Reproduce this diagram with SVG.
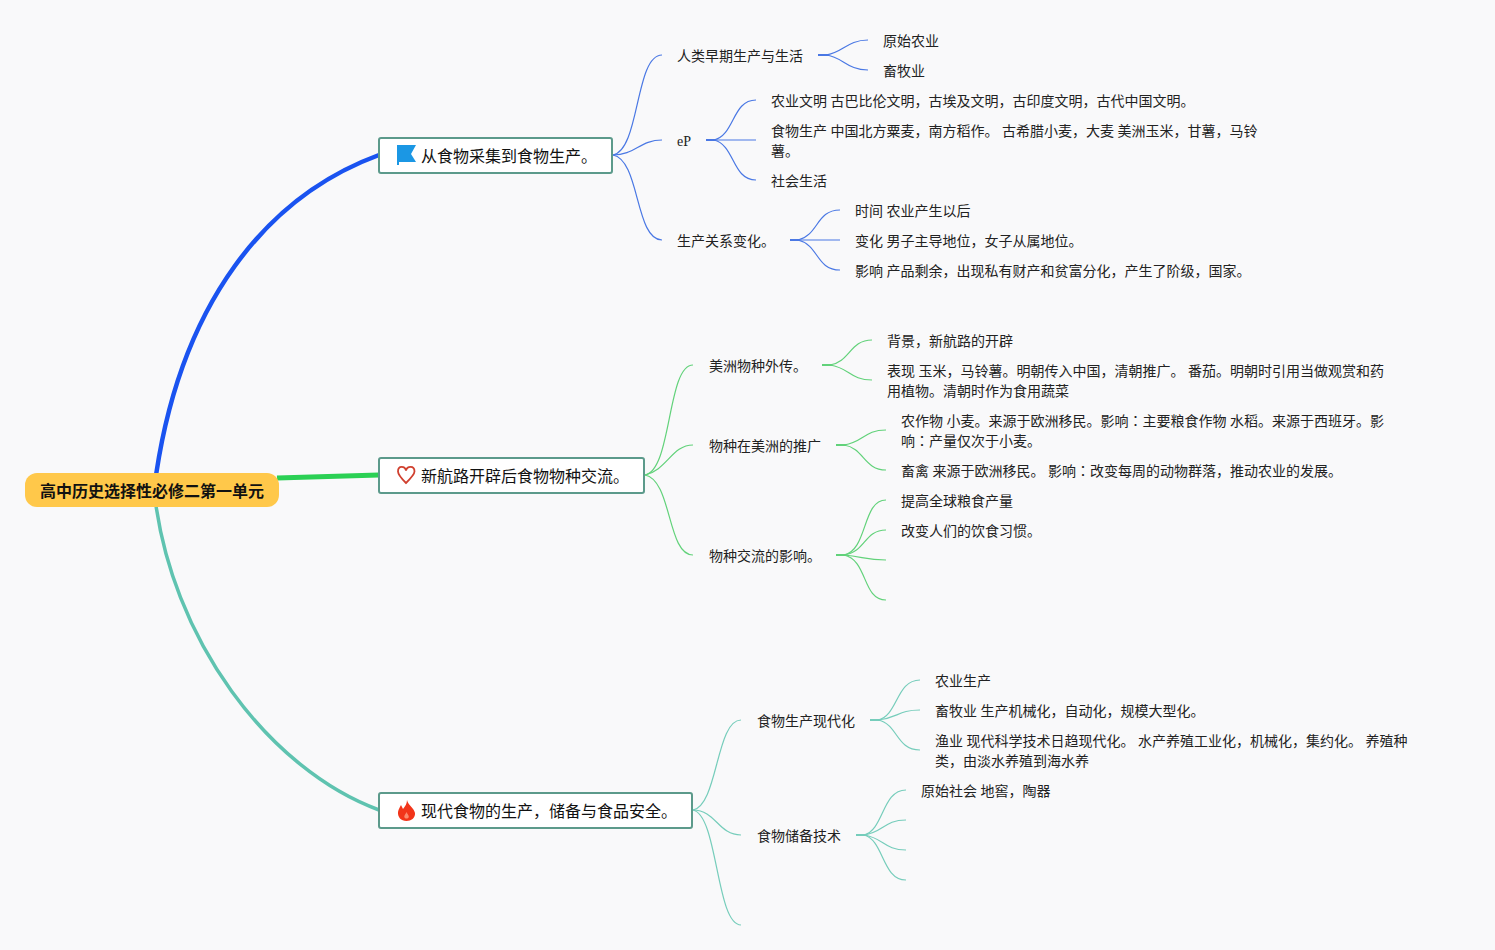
<svg xmlns="http://www.w3.org/2000/svg" width="1495" height="950" viewBox="0 0 1495 950">
<style>
text{font-family:"Noto Sans CJK SC","Liberation Sans",sans-serif;font-size:14px;fill:#222;word-spacing:.4px}
.t{font-size:16px;fill:#111}
.r{font-size:16px;font-weight:700;fill:#111}
.j{font-family:"Noto Sans CJK JP",sans-serif}
.box{fill:#fff;stroke:#5c9a8b;stroke-width:2}
.c{fill:none;stroke-width:1.2}
.b{stroke:#4a78e4}.g{stroke:#62d27a}.m{stroke:#76cdbb}
.s{fill:none;stroke-width:2}
</style>
<rect width="1495" height="950" fill="#f9f9fa"/>
<g id="connectors">
<path d="M154,490 C178,300 270,195 379,155" fill="none" stroke="#1a53f0" stroke-width="4.5"/>
<path d="M277,478 L379,475" fill="none" stroke="#2bd054" stroke-width="5"/>
<path d="M154,490 C170,640 270,770 379,810" fill="none" stroke="#5fc3b0" stroke-width="3.5"/>
<g class="b">
<path class="c" d="M613,155 C640,150 635,55 662,55"/>
<path class="c" d="M613,155 C635,155 640,140 662,140"/>
<path class="c" d="M613,155 C640,160 635,240 662,240"/>
<path class="s" d="M818,55 H828"/>
<path class="c" d="M826,55 C843,53 847,40 868,40"/>
<path class="c" d="M826,55 C843,57 847,70 868,70"/>
<path class="s" d="M706,140 H716"/>
<path class="c" d="M714,140 C735,135 732,100 756,100"/>
<path class="c" d="M714,140 H756" stroke-width="1.6"/>
<path class="c" d="M714,140 C735,145 732,180 756,180"/>
<path class="s" d="M790,240 H800"/>
<path class="c" d="M798,240 C819,235 816,210 840,210"/>
<path class="c" d="M798,240 H840" stroke-width="1.6"/>
<path class="c" d="M798,240 C819,245 816,270 840,270"/>
</g>
<g class="g">
<path class="c" d="M645,475 C672,470 667,365 693,365"/>
<path class="c" d="M645,475 C667,470 672,445 693,445"/>
<path class="c" d="M645,475 C672,480 667,555 693,555"/>
<path class="s" d="M822,365 H832"/>
<path class="c" d="M830,365 C850,362 850,340 872,340"/>
<path class="c" d="M830,365 C850,368 850,380 872,380"/>
<path class="s" d="M836,445 H846"/>
<path class="c" d="M844,445 C864,442 864,430 886,430"/>
<path class="c" d="M844,445 C864,448 864,470 886,470"/>
<path class="s" d="M836,555 H846"/>
<path class="c" d="M844,555 C868,550 862,500 886,500"/>
<path class="c" d="M844,555 C866,552 864,530 886,530"/>
<path class="c" d="M844,555 C864,557 866,560 886,560"/>
<path class="c" d="M844,555 C868,560 862,600 886,600"/>
</g>
<g class="m">
<path class="c" d="M693,810 C718,805 716,720 741,720"/>
<path class="c" d="M693,810 C716,810 718,835 741,835"/>
<path class="c" d="M693,810 C718,815 716,925 741,925"/>
<path class="s" d="M870,720 H880"/>
<path class="c" d="M878,720 C898,716 896,680 920,680"/>
<path class="c" d="M878,720 C898,718 898,710 920,710"/>
<path class="c" d="M878,720 C898,724 896,750 920,750"/>
<path class="s" d="M856,835 H866"/>
<path class="c" d="M864,835 C884,830 882,790 906,790"/>
<path class="c" d="M864,835 C884,832 884,820 906,820"/>
<path class="c" d="M864,835 C884,838 884,850 906,850"/>
<path class="c" d="M864,835 C884,840 882,880 906,880"/>
</g>
</g>
<g id="root"><rect x="25" y="473" width="254" height="34" rx="12" fill="#ffc84a"/><text class="r" x="40" y="497">高中历史选择性必修二第一单元</text></g>
<g id="topic1"><rect class="box" x="379" y="138" width="233" height="35" rx="2"/>
<path d="M398,145 H416 L411,154 L416,162 H399 V165 H397 V145Z" fill="#1b97e4"/>
<text class="t" x="421" y="162">从食物采集到食物生产。</text></g>
<g id="topic2"><rect class="box" x="379" y="458" width="265" height="35" rx="2"/>
<path d="M406,483 C400,477 398,474 398,471.500 C398,465 405,466 406,470.500 C407,466 414.500,465 414.500,471.500 C414.500,474 412,477 406,483Z" fill="#fff" stroke="#d0402f" stroke-width="1.800"/>
<text class="t" x="421" y="482">新航路开辟后食物物种交流。</text></g>
<g id="topic3"><rect class="box" x="379" y="793" width="313" height="35" rx="2"/>
<path d="M407,800 C408,805 414,808 415,813 C415.500,818 411,821 406.500,821 C401,821 397.500,817 398,812 C398.500,809 400,807 401,805 L403,809 C405,806 407,804 407,800Z" fill="#f2351a"/>
<path d="M406.500,812 C407,814 409,815 408.800,817 C408,819 405,819 404.300,817 C404,815 406,814 406.500,812Z" fill="#fb8a6e"/>
<text class="t" x="421" y="817">现代食物的生产，储备与食品安全。</text></g>
<g id="n11"><text x="677" y="61">人类早期生产与生活</text></g>
<g id="n111"><text x="883" y="46">原始农业</text></g>
<g id="n112"><text x="883" y="76">畜牧业</text></g>
<g id="n12"><text x="677" y="146" style="font-family:'Liberation Serif',serif">eP</text></g>
<g id="n121"><text x="771" y="106">农业文明 古巴比伦文明，古埃及文明，古印度文明，古代中国文明。</text></g>
<g id="n122"><text x="771" y="136">食物生产 中国北方粟麦，南方稻作。 古希腊小麦，大麦 美洲玉米，甘薯，马铃</text><text x="771" y="156">薯。</text></g>
<g id="n123"><text x="771" y="186">社会生活</text></g>
<g id="n13"><text x="677" y="246">生产关系变化。</text></g>
<g id="n131"><text x="855" y="216">时间 农业产生以后</text></g>
<g id="n132"><text x="855" y="246">变化 男子主导地位，女子从属地位。</text></g>
<g id="n133"><text x="855" y="276">影响 产品剩余，出现私有财产和贫富分化，产生了阶级，国家。</text></g>
<g id="n21"><text x="709" y="371">美洲物种外传。</text></g>
<g id="n211"><text x="887" y="346">背景，新航路的开辟</text></g>
<g id="n212"><text x="887" y="376">表现 玉米，马铃薯。明朝传入中国，清朝推广。 番茄。明朝时引用当做观赏和药</text><text x="887" y="396">用植物。清朝时作为食用蔬菜</text></g>
<g id="n22"><text x="709" y="451">物种在美洲的推广</text></g>
<g id="n221"><text x="901" y="426">农作物 小麦。来源于欧洲移民。影响<tspan class="j">：</tspan>主要粮食作物 水稻。来源于西班牙。影</text><text x="901" y="446">响<tspan class="j">：</tspan>产量仅次于小麦。</text></g>
<g id="n222"><text x="901" y="476">畜禽 来源于欧洲移民。 影响<tspan class="j">：</tspan>改变每周的动物群落，推动农业的发展。</text></g>
<g id="n23"><text x="709" y="561">物种交流的影响。</text></g>
<g id="n231"><text x="901" y="506">提高全球粮食产量</text></g>
<g id="n232"><text x="901" y="536">改变人们的饮食习惯。</text></g>
<g id="n31"><text x="757" y="726">食物生产现代化</text></g>
<g id="n311"><text x="935" y="686">农业生产</text></g>
<g id="n312"><text x="935" y="716">畜牧业 生产机械化，自动化，规模大型化。</text></g>
<g id="n313"><text x="935" y="746">渔业 现代科学技术日趋现代化。 水产养殖工业化，机械化，集约化。 养殖种</text><text x="935" y="766">类，由淡水养殖到海水养</text></g>
<g id="n32"><text x="757" y="841">食物储备技术</text></g>
<g id="n321"><text x="921" y="796">原始社会 地窖，陶器</text></g>
</svg>
